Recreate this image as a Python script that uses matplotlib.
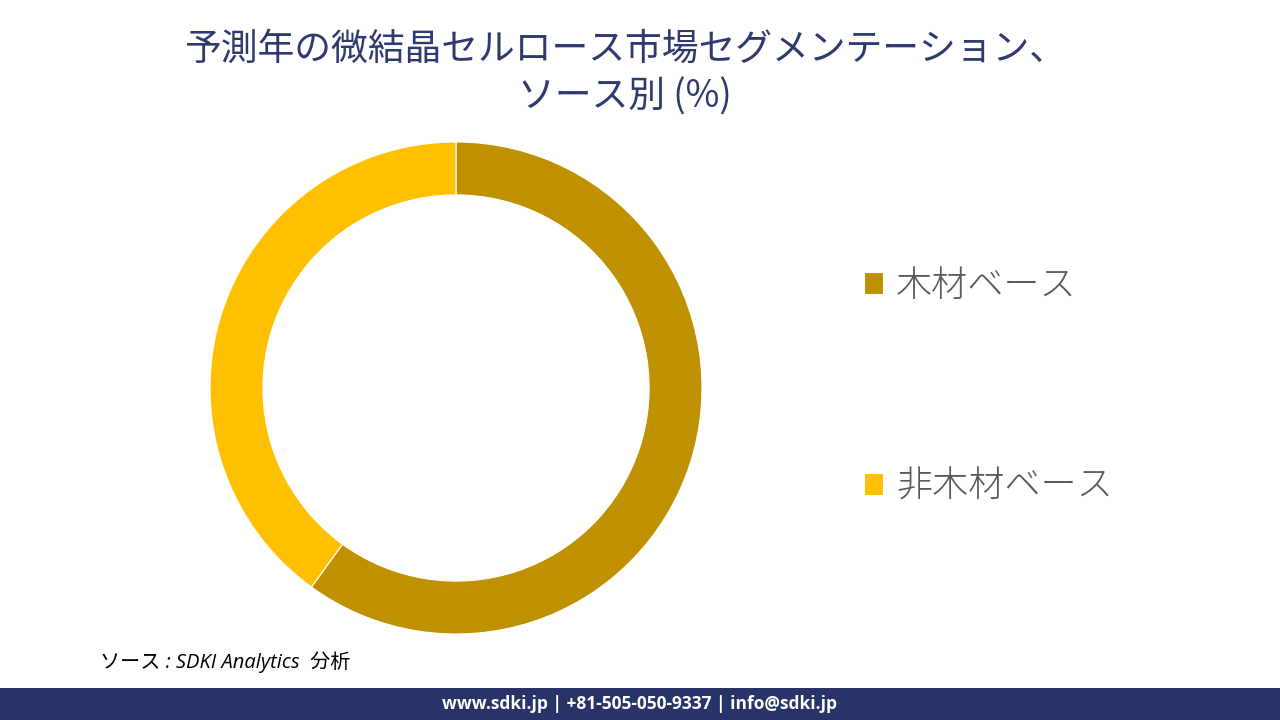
import matplotlib
matplotlib.use("Agg")
import matplotlib.pyplot as plt
from matplotlib.patches import Rectangle

plt.rcParams['font.family'] = ['Noto Sans CJK JP', 'DejaVu Sans']

labels = ["木材ベース", "非木材ベース"]
shares = [60, 40]
colors = ["#BF9000", "#FFC000"]

title = "予測年の微結晶セルロース市場セグメンテーション、\nソース別 (%)"
source = "ソース : SDKI Analytics  分析"
footer = "www.sdki.jp | +81-505-050-9337 | info@sdki.jp"

fig = plt.figure(figsize=(12.8, 7.2), dpi=100)
W, H = 1280, 720

# donut: center (456, 388) px, outer radius 246 px
ax = fig.add_axes([210 / W, (H - 388 - 246) / H, 492 / W, 492 / H])
wedges, _ = ax.pie(shares, colors=colors, startangle=90, counterclock=False,
                   radius=1.0, wedgeprops=dict(width=0.215, edgecolor="white", linewidth=0.8))
ax.set_xlim(-1, 1); ax.set_ylim(-1, 1)
ax.set_aspect("equal"); ax.axis("off")

fig.legend(wedges, labels, loc="center left", bbox_to_anchor=(831 / W, (H - 386) / H),
           frameon=False, prop=dict(size=26, weight="light"), labelcolor="#595959",
           handlelength=0.55, handleheight=0.55, handletextpad=0.35, labelspacing=4.5)

fig.text(625 / W, 1 - 73 / H, title, ha="center", va="center", fontsize=26.5,
         color="#2E3A6E", linespacing=1.3)

fig.text(100 / W, 1 - 662 / H, source, ha="left", va="center", fontsize=14.5,
         style="italic", family=["Open Sans", "Noto Sans CJK JP"], color="black")

fig.patches.append(Rectangle((0, 0), 1, 32 / H, transform=fig.transFigure,
                             facecolor="#283468", edgecolor="none"))
fig.text(0.5, 16 / H, footer, ha="center", va="center", fontsize=12.5,
         fontweight="bold", color="white", family=["Open Sans", "DejaVu Sans"])

fig.savefig("out.png", dpi=100)
